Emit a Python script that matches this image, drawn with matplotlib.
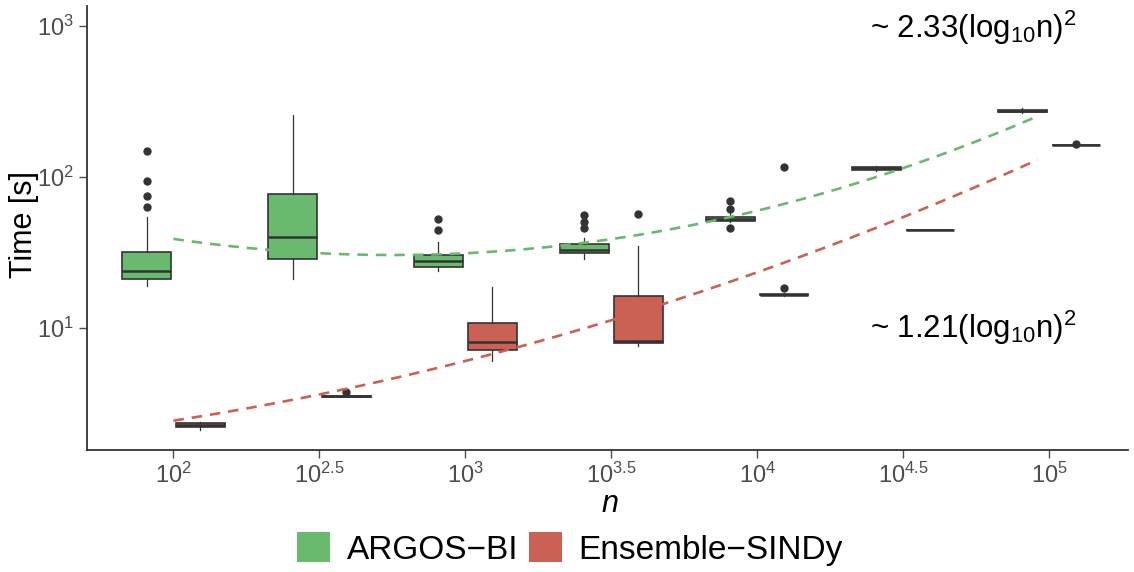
import numpy as np
import matplotlib
matplotlib.use("Agg")
import matplotlib.pyplot as plt
from matplotlib.patches import Patch

plt.rcParams["font.family"] = ["Liberation Sans", "DejaVu Sans"]
plt.rcParams["mathtext.fontset"] = "custom"
plt.rcParams["mathtext.rm"] = "Liberation Sans"
plt.rcParams["mathtext.it"] = "Liberation Sans:italic"

# sample sizes (log10 n) and methods
log_n = [2.0, 2.5, 3.0, 3.5, 4.0, 4.5, 5.0]
x_tick_labels = [r"$10^{2}$", r"$10^{2.5}$", r"$10^{3}$", r"$10^{3.5}$",
                 r"$10^{4}$", r"$10^{4.5}$", r"$10^{5}$"]
methods = ["ARGOS\u2212BI", "Ensemble\u2212SINDy"]

# box statistics in seconds: lower whisker, Q1, median, Q3, upper whisker
argos_whislo = [19.0, 21.1, 24.0, 28.6, 50.4, 110.3, 263]
argos_q1 = [21.1, 28.6, 25.4, 31.5, 51.0, 112.0, 270]
argos_med = [23.8, 40.3, 28.0, 33.1, 52.5, 114.7, 273]
argos_q3 = [32.1, 76.9, 30.4, 35.9, 54.2, 117.0, 277]
argos_whishi = [54.4, 257, 37.3, 39.3, 59.0, 118.3, 284]
argos_fliers = [[63.2, 74.9, 94.5, 148.6], [], [44.8, 52.8],
                [46.2, 50.4, 56.3], [46.0, 61.1, 69.7], [], []]

esindy_whislo = [2.13, 3.50, 6.08, 7.64, 16.4, 44.3, 161.0]
esindy_q1 = [2.22, 3.53, 7.16, 7.96, 16.55, 44.4, 161.5]
esindy_med = [2.285, 3.55, 8.12, 8.2, 16.7, 44.6, 162.0]
esindy_q3 = [2.355, 3.58, 10.9, 16.3, 16.85, 44.8, 162.5]
esindy_whishi = [2.40, 3.60, 18.7, 35.1, 17.0, 44.9, 163.0]
esindy_fliers = [[], [3.78], [], [56.7], [18.5, 115.6], [], [164.0]]

# points along the fitted trend curves (log10 n, seconds)
argos_trend_x = [2.0, 2.5, 2.74, 3.01, 3.37, 4.15, 4.48, 4.95]
argos_trend_y = [39.1, 31.1, 30.6, 31.5, 35.9, 71.3, 111.0, 247.0]
esindy_trend_x = [2.0, 2.38, 3.18, 3.22, 4.15, 4.54, 4.95]
esindy_trend_y = [2.54, 3.11, 7.55, 7.96, 30.1, 58.5, 126.2]

green = "#69B96F"
red = "#CB6154"
edge = "#333333"

fig = plt.figure(figsize=(11.34, 5.72), dpi=100)
ax = fig.add_axes([87 / 1134, 1 - 450 / 572, (1128 - 87) / 1134, (450 - 6) / 572])


def make_stats(lo, q1, med, q3, hi, fl):
    return [dict(whislo=a, q1=b, med=c, q3=d, whishi=e, fliers=f)
            for a, b, c, d, e, f in zip(lo, q1, med, q3, hi, fl)]


box_w = 0.167
offset = 0.092
series = [
    (make_stats(argos_whislo, argos_q1, argos_med, argos_q3, argos_whishi, argos_fliers), -offset, green),
    (make_stats(esindy_whislo, esindy_q1, esindy_med, esindy_q3, esindy_whishi, esindy_fliers), offset, red),
]
for stats, off, col in series:
    ax.bxp(stats, positions=[p + off for p in log_n], widths=box_w,
           patch_artist=True, showcaps=False, manage_ticks=False,
           boxprops=dict(facecolor=col, edgecolor=edge, linewidth=1.2),
           medianprops=dict(color=edge, linewidth=1.8),
           whiskerprops=dict(color=edge, linewidth=0.9),
           flierprops=dict(marker="o", markerfacecolor=edge, markeredgecolor=edge,
                           markersize=5.0))

# quadratic trends fitted in log-log space
xs = np.linspace(2.0, 4.96, 200)
for tx, ty, col in [(argos_trend_x, argos_trend_y, green),
                    (esindy_trend_x, esindy_trend_y, red)]:
    coef = np.polyfit(tx, np.log10(ty), 2)
    ax.plot(xs, 10 ** np.polyval(coef, xs), color=col, linestyle=(0, (4, 3)),
            linewidth=1.9, zorder=3)

ax.set_yscale("log")
ax.set_ylim(1.569, 1349)
ax.set_xlim(1.704, 5.27)
ax.set_xticks(log_n)
ax.set_xticklabels(x_tick_labels)
ax.set_yticks([10, 100, 1000])
ax.set_yticklabels([r"$10^{1}$", r"$10^{2}$", r"$10^{3}$"])
ax.yaxis.set_minor_locator(matplotlib.ticker.NullLocator())
ax.tick_params(axis="both", labelsize=17, colors="#4D4D4D", length=6, width=1.0)
ax.tick_params(axis="x", pad=3)
for s in ["top", "right"]:
    ax.spines[s].set_visible(False)
for s in ["left", "bottom"]:
    ax.spines[s].set_color(edge)
    ax.spines[s].set_linewidth(1.3)

ax.text(4.385, 830, r"~ 2.33(log$_{10}$n)$^{2}$", fontsize=22.5, va="baseline", ha="left")
ax.text(4.385, 8.63, r"~ 1.21(log$_{10}$n)$^{2}$", fontsize=22.5, va="baseline", ha="left")

fig.text(24 / 1134, 1 - 225 / 572, "Time [s]", rotation=90, fontsize=22,
         ha="center", va="center")
fig.text(610 / 1134, 1 - 504 / 572, "n", fontsize=22, style="italic",
         ha="center", va="center")

handles = [Patch(facecolor=green, edgecolor="none"), Patch(facecolor=red, edgecolor="none")]
fig.legend(handles, methods, loc="center", bbox_to_anchor=(570 / 1134, 1 - 549 / 572),
           ncol=2, frameon=False, fontsize=24, handlelength=1.0, handleheight=1.0,
           handletextpad=0.5, columnspacing=0.3, borderpad=0)

fig.savefig("out.png", dpi=100)
